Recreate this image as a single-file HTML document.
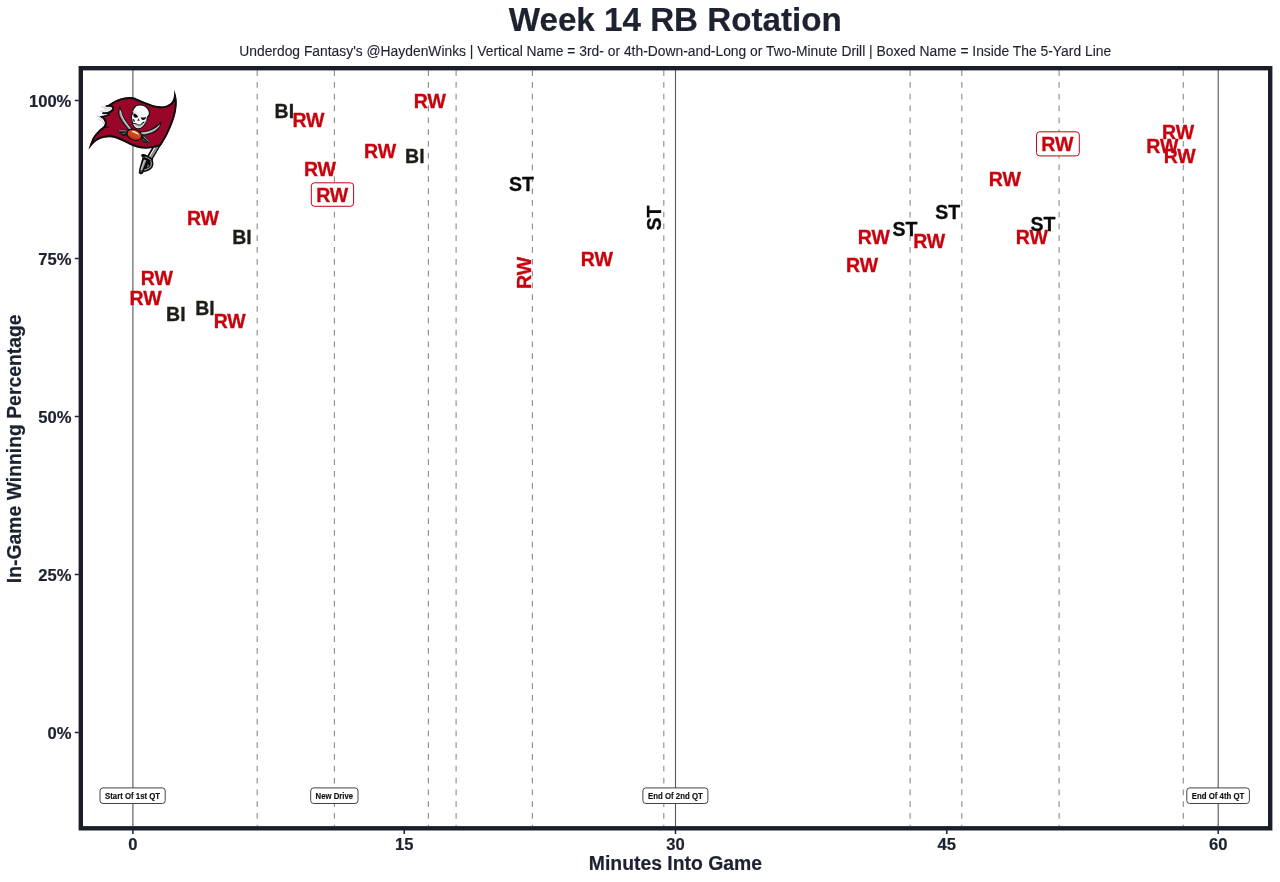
<!DOCTYPE html>
<html lang="en"><head><meta charset="utf-8"><title>Week 14 RB Rotation</title>
<style>
html,body{margin:0;padding:0;background:#fff;}
body{width:1280px;height:882px;overflow:hidden;}
svg{display:block;}
text{font-family:"Liberation Sans",Arial,Helvetica,sans-serif;}
.b{font-weight:700;stroke:#1d2230;stroke-width:0.2px;}
.lbl{font-weight:700;font-size:19.50px;text-anchor:middle;stroke-width:0.3px;paint-order:stroke;stroke-linejoin:round;}
.ax{font-weight:700;font-size:16.6px;fill:#1d2230;stroke:#1d2230;stroke-width:0.2px;}
.an{font-weight:700;font-size:8.15px;text-anchor:middle;fill:#111;stroke:#111;stroke-width:0.15px;}
</style></head><body>
<svg width="1280" height="882" viewBox="0 0 1280 882">
<rect width="1280" height="882" fill="#ffffff"/>
<text class="b" x="675.3" y="30.6" text-anchor="middle" font-size="33.2" fill="#1d2230">Week 14 RB Rotation</text>
<text x="675.2" y="55.9" text-anchor="middle" font-size="13.85" fill="#1d2230" stroke="#1d2230" stroke-width="0.12">Underdog Fantasy's @HaydenWinks | Vertical Name = 3rd- or 4th-Down-and-Long or Two-Minute Drill | Boxed Name = Inside The 5-Yard Line</text>
<g stroke="#909090" stroke-width="1.15" stroke-dasharray="5.75 6.04" fill="none">
<line x1="257.2" y1="70.25" x2="257.2" y2="826"/>
<line x1="334.4" y1="70.25" x2="334.4" y2="826"/>
<line x1="428.4" y1="70.25" x2="428.4" y2="826"/>
<line x1="456.1" y1="70.25" x2="456.1" y2="826"/>
<line x1="532.4" y1="70.25" x2="532.4" y2="826"/>
<line x1="663.8" y1="70.25" x2="663.8" y2="826"/>
<line x1="910.1" y1="70.25" x2="910.1" y2="826"/>
<line x1="961.8" y1="70.25" x2="961.8" y2="826"/>
<line x1="1059.1" y1="70.25" x2="1059.1" y2="826"/>
<line x1="1183.3" y1="70.25" x2="1183.3" y2="826"/>
</g>
<g stroke="#5c5c5c" stroke-width="1.15" fill="none">
<line x1="132.9" y1="70" x2="132.9" y2="826"/>
<line x1="675.5" y1="70" x2="675.5" y2="826"/>
<line x1="1218.2" y1="70" x2="1218.2" y2="826"/>
</g>
<g id="logo">
<path d="M156.30 140.37 L161.88 143.62 L152.00 160.56 L146.43 157.30Z" fill="#0c0c0c"/>
<path d="M157.77 141.23 L158.98 141.93 L149.10 158.87 L147.89 158.16Z" fill="#f4f5f6"/>
<path d="M158.98 141.93 L160.62 142.89 L150.75 159.82 L149.10 158.87Z" fill="#a4aaae"/>
<path d="M159.59 142.29 L159.93 142.49 L150.05 159.42 L149.71 159.22Z" fill="#5d6266"/>
<path d="M146.0 158.6 L150.8 160.2 C152.4 163.4 151.6 167.0 148.8 169.0 C147.0 170.2 145.0 170.6 142.6 170.8 Z" fill="#0c0c0c"/>
<path d="M150.2 159.2 C151.6 161.0 152.1 163.4 151.5 165.6 C150.7 168.4 148.2 169.9 143.4 170.5" fill="none" stroke="#0c0c0c" stroke-width="3.3" stroke-linecap="round"/>
<path d="M150.4 160.2 C151.3 161.6 151.6 163.6 151.1 165.4 C150.4 167.8 148.0 169.2 144.2 169.9" fill="none" stroke="#9ba1a5" stroke-width="1.15" stroke-linecap="round"/>
<path d="M147.6 164.6 L149.2 165.0 L148.6 166.8 L146.8 167.4 Z" fill="#6f7478"/>
<path d="M142.6 157.0 L148.4 158.6 L146.0 165.0 L144.2 170.2 L142.8 173.6 L140.7 174.6 L138.7 172.9 L139.2 169.0 L140.8 163.4 Z" fill="#0c0c0c"/>
<path d="M144.0 159.6 L146.4 160.3 L143.6 167.4 L141.9 171.6 L140.7 172.4 L140.3 170.0 Z" fill="#8e9498"/>
<path d="M144.1 160.0 L145.0 160.3 L141.5 169.6 L140.8 169.3 Z" fill="#d4d8da"/>
<path d="M140.2 170.6 L142.6 171.3" stroke="#0c0c0c" stroke-width="0.8"/>
<path d="M141.6 154.2 C143.2 153.5 145.0 154.0 146.2 155.4 L146.0 157.6 L142.8 157.6 C141.2 157.0 140.8 155.2 141.6 154.2 Z" fill="#0c0c0c"/>
<path d="M145.0 156.0 C147.4 157.0 149.6 158.2 151.6 159.9" fill="none" stroke="#0c0c0c" stroke-width="3.0" stroke-linecap="round"/>
<path d="M145.4 156.9 C147.4 157.7 149.4 158.8 151.1 160.2" fill="none" stroke="#9ba1a5" stroke-width="1.0" stroke-linecap="round"/>
<clipPath id="fc"><path d="M107.00 105.60 C107.70 105.17 109.58 103.95 111.20 103.00 C112.82 102.05 114.43 100.82 116.70 99.90 C118.97 98.98 122.08 97.93 124.80 97.50 C127.52 97.07 130.30 96.78 133.00 97.30 C135.70 97.82 137.97 99.40 141.00 100.60 C144.03 101.80 148.13 103.55 151.20 104.50 C154.27 105.45 156.90 106.10 159.40 106.30 C161.90 106.50 164.22 106.32 166.20 105.70 C168.18 105.08 170.05 103.95 171.30 102.60 C172.55 101.25 173.18 99.70 173.70 97.60 C174.22 95.50 174.28 91.27 174.40 90.00 C174.72 91.27 175.92 95.20 176.30 97.60 C176.68 100.00 176.88 101.57 176.70 104.40 C176.52 107.23 176.02 111.20 175.20 114.60 C174.38 118.00 173.07 121.52 171.80 124.80 C170.53 128.08 169.07 131.33 167.60 134.30 C166.13 137.27 164.17 140.65 163.00 142.60 C161.83 144.55 161.00 145.43 160.60 146.00 C159.67 146.27 156.93 147.17 155.00 147.60 C153.07 148.03 151.00 148.43 149.00 148.60 C147.00 148.77 145.00 148.80 143.00 148.60 C141.00 148.40 139.00 147.95 137.00 147.40 C135.00 146.85 133.17 146.23 131.00 145.30 C128.83 144.37 126.33 142.90 124.00 141.80 C121.67 140.70 119.25 139.45 117.00 138.70 C114.75 137.95 112.67 137.45 110.50 137.30 C108.33 137.15 106.15 137.32 104.00 137.80 C101.85 138.28 99.47 139.12 97.60 140.20 C95.73 141.28 94.32 142.70 92.80 144.30 C91.28 145.90 89.22 148.88 88.50 149.80 C88.80 148.83 89.45 146.20 90.30 144.00 C91.15 141.80 92.20 138.87 93.60 136.60 C95.00 134.33 97.18 131.95 98.70 130.40 C100.22 128.85 102.03 127.82 102.70 127.30 C102.98 126.92 104.07 125.88 104.40 125.00 C104.73 124.12 105.00 123.07 104.70 122.00 C104.40 120.93 103.58 119.52 102.60 118.60 C101.62 117.68 99.43 116.85 98.80 116.50 C99.67 116.32 102.47 115.78 104.00 115.40 C105.53 115.02 107.33 114.40 108.00 114.20 C107.58 114.10 106.33 113.78 105.50 113.60 C104.67 113.42 103.42 113.18 103.00 113.10 C103.25 112.67 104.33 111.28 104.50 110.50 C104.67 109.72 103.58 109.22 104.00 108.40 C104.42 107.58 106.50 106.07 107.00 105.60 Z"/></clipPath>
<g clip-path="url(#fc)"><path d="M107.00 105.60 C107.70 105.17 109.58 103.95 111.20 103.00 C112.82 102.05 114.43 100.82 116.70 99.90 C118.97 98.98 122.08 97.93 124.80 97.50 C127.52 97.07 130.30 96.78 133.00 97.30 C135.70 97.82 137.97 99.40 141.00 100.60 C144.03 101.80 148.13 103.55 151.20 104.50 C154.27 105.45 156.90 106.10 159.40 106.30 C161.90 106.50 164.22 106.32 166.20 105.70 C168.18 105.08 170.05 103.95 171.30 102.60 C172.55 101.25 173.18 99.70 173.70 97.60 C174.22 95.50 174.28 91.27 174.40 90.00 C174.72 91.27 175.92 95.20 176.30 97.60 C176.68 100.00 176.88 101.57 176.70 104.40 C176.52 107.23 176.02 111.20 175.20 114.60 C174.38 118.00 173.07 121.52 171.80 124.80 C170.53 128.08 169.07 131.33 167.60 134.30 C166.13 137.27 164.17 140.65 163.00 142.60 C161.83 144.55 161.00 145.43 160.60 146.00 C159.67 146.27 156.93 147.17 155.00 147.60 C153.07 148.03 151.00 148.43 149.00 148.60 C147.00 148.77 145.00 148.80 143.00 148.60 C141.00 148.40 139.00 147.95 137.00 147.40 C135.00 146.85 133.17 146.23 131.00 145.30 C128.83 144.37 126.33 142.90 124.00 141.80 C121.67 140.70 119.25 139.45 117.00 138.70 C114.75 137.95 112.67 137.45 110.50 137.30 C108.33 137.15 106.15 137.32 104.00 137.80 C101.85 138.28 99.47 139.12 97.60 140.20 C95.73 141.28 94.32 142.70 92.80 144.30 C91.28 145.90 89.22 148.88 88.50 149.80 C88.80 148.83 89.45 146.20 90.30 144.00 C91.15 141.80 92.20 138.87 93.60 136.60 C95.00 134.33 97.18 131.95 98.70 130.40 C100.22 128.85 102.03 127.82 102.70 127.30 C102.98 126.92 104.07 125.88 104.40 125.00 C104.73 124.12 105.00 123.07 104.70 122.00 C104.40 120.93 103.58 119.52 102.60 118.60 C101.62 117.68 99.43 116.85 98.80 116.50 C99.67 116.32 102.47 115.78 104.00 115.40 C105.53 115.02 107.33 114.40 108.00 114.20 C107.58 114.10 106.33 113.78 105.50 113.60 C104.67 113.42 103.42 113.18 103.00 113.10 C103.25 112.67 104.33 111.28 104.50 110.50 C104.67 109.72 103.58 109.22 104.00 108.40 C104.42 107.58 106.50 106.07 107.00 105.60 Z" fill="#98072a" stroke="#0c0c0c" stroke-width="3.9" stroke-linejoin="round"/>
<path d="M101.5 127.6 C104.5 127.0 107.0 127.0 109.2 127.3" stroke="#0c0c0c" stroke-width="1.1" fill="none"/>
</g>
<path d="M102.9 112.6 C104.6 112.6 107.0 112.2 109.0 111.4 C111.0 110.4 112.4 109.0 112.3 107.8 C111.6 106.8 109.4 106.5 107.2 106.6 C105.8 106.6 104.4 107.2 103.2 108.0 C103.6 109.0 103.4 110.0 102.4 110.8 C102.8 111.4 102.9 112.0 102.9 112.6 Z" fill="#f1f2f3"/>
<path d="M104.6 108.8 C106.6 108.2 108.8 108.0 110.8 108.2" fill="none" stroke="#c5cace" stroke-width="0.8"/>
<path d="M104.2 111.0 C106.2 110.8 108.2 110.2 109.8 109.4" fill="none" stroke="#d5d9dc" stroke-width="0.7"/>
<path d="M106.4 106.0 C109.4 105.7 112.6 105.9 113.2 107.6 C113.6 109.6 111.4 111.7 108.6 112.6 C106.6 113.2 104.6 113.4 102.9 113.2" fill="none" stroke="#0c0c0c" stroke-width="1.7" stroke-linecap="round"/>
<g fill="none" stroke="#c3c9cd" stroke-width="1.0" stroke-linecap="round">
<path d="M101.6 106.8 L104.6 107.3"/><path d="M100.6 111.7 L102.6 111.0"/><path d="M97.0 115.7 L100.6 117.9 C102.0 119.4 103.0 121.4 103.2 123.6"/><path d="M98.6 119.4 L100.6 120.4"/>
</g>
<path d="M119.70 106.00 C119.45 107.00 118.28 110.17 118.20 112.00 C118.12 113.83 118.57 115.35 119.20 117.00 C119.83 118.65 120.95 120.33 122.00 121.90 C123.05 123.47 124.42 124.98 125.50 126.40 C126.58 127.82 128.00 129.73 128.50 130.40 L132.60 129.00 C132.32 128.65 131.83 128.08 130.90 126.90 C129.97 125.72 128.23 123.63 127.00 121.90 C125.77 120.17 124.47 118.57 123.50 116.50 C122.53 114.43 121.83 111.25 121.20 109.50 C120.57 107.75 119.95 106.58 119.70 106.00 Z" fill="#0c0c0c"/>
<path d="M119.90 108.60 C119.78 109.23 119.15 111.03 119.20 112.40 C119.25 113.77 119.58 115.28 120.20 116.80 C120.82 118.32 121.88 119.98 122.90 121.50 C123.92 123.02 125.28 124.62 126.30 125.90 C127.32 127.18 128.55 128.65 129.00 129.20 L131.20 128.40 C131.00 128.15 130.83 127.97 130.00 126.90 C129.17 125.83 127.42 123.72 126.20 122.00 C124.98 120.28 123.62 118.50 122.70 116.60 C121.78 114.70 121.17 111.93 120.70 110.60 C120.23 109.27 120.03 108.93 119.90 108.60 Z" fill="#8b9195"/>
<path d="M120.5 111.0 C121.2 115.0 122.8 118.6 125.0 122.0 C126.6 124.4 128.4 126.6 130.2 128.6" fill="none" stroke="#e2e5e7" stroke-width="0.85"/>
<path d="M161.50 121.30 C160.87 121.83 159.17 123.40 157.70 124.50 C156.23 125.60 154.52 126.92 152.70 127.90 C150.88 128.88 148.93 129.82 146.80 130.40 C144.67 130.98 141.05 131.23 139.90 131.40 L140.40 134.90 C141.07 134.98 142.73 135.57 144.40 135.40 C146.07 135.23 148.40 134.65 150.40 133.90 C152.40 133.15 154.73 132.23 156.40 130.90 C158.07 129.57 159.57 127.47 160.40 125.90 C161.23 124.33 161.23 122.23 161.40 121.50 Z" fill="#0c0c0c"/>
<path d="M160.20 124.00 C159.77 124.37 158.77 125.37 157.60 126.20 C156.43 127.03 154.97 128.13 153.20 129.00 C151.43 129.87 149.10 130.83 147.00 131.40 C144.90 131.97 141.67 132.23 140.60 132.40 L140.90 134.00 C141.48 134.07 142.88 134.57 144.40 134.40 C145.92 134.23 148.13 133.70 150.00 133.00 C151.87 132.30 154.07 131.27 155.60 130.20 C157.13 129.13 158.43 127.60 159.20 126.60 C159.97 125.60 160.03 124.60 160.20 124.20 Z" fill="#8b9195"/>
<path d="M159.0 126.0 C157.0 128.6 154.2 130.4 151.0 131.6 C147.8 132.8 144.4 133.2 141.2 133.2" fill="none" stroke="#e2e5e7" stroke-width="0.85"/>
<path d="M117.2 131.2 C120.0 129.6 123.8 129.4 127.4 130.0 L127.6 135.0 C125.8 136.6 123.0 136.6 121.4 135.2 C120.8 133.8 119.2 132.6 117.2 131.2 Z" fill="#1b1c1d"/>
<path d="M119.0 131.0 C121.6 130.4 124.2 130.6 126.6 131.2" stroke="#8d9397" stroke-width="1.0" fill="none"/>
<path d="M122.2 133.6 L125.6 133.0" stroke="#6b7074" stroke-width="0.9" fill="none"/>
<path d="M141.2 136.2 L143.8 135.2 C146.6 137.4 148.8 139.6 149.9 141.9 C148.4 143.0 146.0 143.1 143.8 142.4 C142.2 141.2 141.2 139.0 141.2 136.2 Z" fill="#1b1c1d"/>
<path d="M143.6 136.6 C145.4 138.0 147.2 139.6 148.6 141.4" stroke="#a7adb0" stroke-width="1.0" fill="none"/>
<path d="M143.0 139.0 L144.6 141.2" stroke="#6b7074" stroke-width="0.9" fill="none"/>
<path d="M140.50 104.90 C141.67 105.00 143.50 105.28 144.70 105.90 C145.90 106.52 146.93 107.58 147.70 108.60 C148.47 109.62 149.07 110.93 149.30 112.00 C149.53 113.07 149.42 114.10 149.10 115.00 C148.78 115.90 147.77 116.52 147.40 117.40 C147.03 118.28 147.27 119.25 146.90 120.30 C146.53 121.35 145.88 122.65 145.20 123.70 C144.52 124.75 143.72 125.80 142.80 126.60 C141.88 127.40 140.73 128.18 139.70 128.50 C138.67 128.82 137.57 128.82 136.60 128.50 C135.63 128.18 134.58 127.48 133.90 126.60 C133.22 125.72 132.83 124.37 132.50 123.20 C132.17 122.03 132.08 120.75 131.90 119.60 C131.72 118.45 131.28 117.38 131.40 116.30 C131.52 115.22 132.33 114.17 132.60 113.10 C132.87 112.03 132.58 110.95 133.00 109.90 C133.42 108.85 134.32 107.57 135.10 106.80 C135.88 106.03 136.80 105.62 137.70 105.30 C138.60 104.98 139.33 104.80 140.50 104.90 Z" fill="#fbfbfb" stroke="#0c0c0c" stroke-width="1.15" stroke-linejoin="round"/>
<path d="M133.2 123.6 C135.0 124.2 136.6 124.2 138.0 125.2 C139.6 125.8 141.0 125.2 142.2 123.8 C143.0 123.0 144.0 122.4 145.0 122.2 C144.4 124.2 143.2 125.8 141.6 127.0 C140.2 127.9 138.2 128.2 136.8 127.8 C135.0 127.0 133.8 125.6 133.2 123.6 Z" fill="#cfd3d6"/>
<path d="M132.6 111.4 C134.6 111.8 137.0 112.8 139.0 114.6" fill="none" stroke="#d9dcde" stroke-width="0.8"/>
<path d="M133.7 113.2 C135.6 113.6 137.2 114.8 138.2 116.7 C137.0 117.9 135.0 117.9 133.9 116.9 C133.2 115.8 133.2 114.4 133.7 113.2 Z" fill="#0c0c0c"/>
<path d="M140.7 117.2 C142.6 117.8 144.4 117.6 146.0 116.7 C146.1 118.6 144.9 120.0 143.2 120.1 C141.8 119.9 140.9 118.8 140.7 117.2 Z" fill="#0c0c0c"/>
<path d="M138.5 118.2 L139.7 120.6 L137.4 120.9 Z" fill="#141414"/>
<path d="M132.9 119.0 C134.0 118.9 134.9 120.2 134.8 122.0 C133.7 122.0 132.9 120.8 132.9 119.0 Z" fill="#141414"/>
<path d="M146.4 120.4 C146.2 121.6 145.8 122.4 145.4 123.0" stroke="#777c80" stroke-width="0.9" fill="none"/>
<path d="M133.1 123.2 C134.0 123.6 134.8 123.5 135.5 123.7 C136.6 124.0 137.2 124.8 138.2 125.0 C139.2 125.2 140.2 125.0 141.0 124.6 C141.6 124.0 142.0 123.4 142.6 123.0 C143.2 122.6 143.8 122.3 144.4 122.0" fill="none" stroke="#141414" stroke-width="1.05"/>
<path d="M136.6 124.3 L136.4 125.6 M139.6 125.2 L139.6 126.4 M142.0 123.6 L142.6 124.8" stroke="#8a8f93" stroke-width="0.6"/>
<g transform="translate(134.3 134.8) rotate(20)">
<ellipse rx="7.6" ry="5.2" fill="#d8401a" stroke="#0c0c0c" stroke-width="1.15"/>
<path d="M-6.8 1.6 C-3.5 4.6 3.5 4.6 6.8 1.6 C4.0 3.0 -4.0 3.0 -6.8 1.6 Z" fill="#a92c10"/>
<path d="M-3.4 -2.4 C-1.2 -3.4 1.8 -3.2 3.8 -1.8 C1.8 -2.2 -1.2 -2.2 -3.4 -2.4 Z" fill="#ffffff" stroke="#ffe9df" stroke-width="0.7"/>
</g>
</g>
<g class="lbl">
<text x="284.35" y="117.50" fill="#1f1b17" stroke="#1f1b17">BI</text>
<text x="308.45" y="126.90" fill="#c8030d" stroke="#c8030d">RW</text>
<text x="429.90" y="108.00" fill="#c8030d" stroke="#c8030d">RW</text>
<text x="380.10" y="157.70" fill="#c8030d" stroke="#c8030d">RW</text>
<text x="414.85" y="162.70" fill="#1f1b17" stroke="#1f1b17">BI</text>
<text x="319.95" y="176.00" fill="#c8030d" stroke="#c8030d">RW</text>
<text x="202.95" y="225.40" fill="#c8030d" stroke="#c8030d">RW</text>
<text x="242.00" y="244.10" fill="#1f1b17" stroke="#1f1b17">BI</text>
<text x="156.75" y="284.60" fill="#c8030d" stroke="#c8030d">RW</text>
<text x="145.50" y="304.80" fill="#c8030d" stroke="#c8030d">RW</text>
<text x="175.85" y="321.40" fill="#1f1b17" stroke="#1f1b17">BI</text>
<text x="204.95" y="314.50" fill="#1f1b17" stroke="#1f1b17">BI</text>
<text x="229.70" y="327.90" fill="#c8030d" stroke="#c8030d">RW</text>
<text x="521.55" y="190.60" fill="#0a0a08" stroke="#0a0a08">ST</text>
<text x="596.90" y="265.50" fill="#c8030d" stroke="#c8030d">RW</text>
<text x="873.75" y="243.75" fill="#c8030d" stroke="#c8030d">RW</text>
<text x="862.00" y="271.70" fill="#c8030d" stroke="#c8030d">RW</text>
<text x="929.20" y="247.70" fill="#c8030d" stroke="#c8030d">RW</text>
<text x="1004.90" y="185.70" fill="#c8030d" stroke="#c8030d">RW</text>
<text x="1031.85" y="244.10" fill="#c8030d" stroke="#c8030d">RW</text>
<text x="1178.15" y="138.50" fill="#c8030d" stroke="#c8030d">RW</text>
<text x="1162.25" y="153.40" fill="#c8030d" stroke="#c8030d">RW</text>
<text x="1179.70" y="163.10" fill="#c8030d" stroke="#c8030d">RW</text>
<text x="905.00" y="235.90" fill="#0a0a08" stroke="#0a0a08">ST</text>
<text x="947.75" y="219.30" fill="#0a0a08" stroke="#0a0a08">ST</text>
<text x="1043.00" y="230.70" fill="#0a0a08" stroke="#0a0a08">ST</text>
<text transform="translate(530.6 272.9) rotate(-90)" fill="#c8030d" stroke="#c8030d">RW</text>
<text transform="translate(660.9 218.1) rotate(-90)" fill="#0a0a08" stroke="#0a0a08">ST</text>
</g>
<rect x="311.3" y="182.8" width="42.3" height="23.5" rx="3.2" fill="#fff" stroke="#c8030d" stroke-width="1"/>
<text class="lbl" x="332.20" y="202.30" fill="#c8030d" stroke="#c8030d">RW</text>
<rect x="1036.5" y="131.8" width="42.8" height="24.1" rx="3.2" fill="#fff" stroke="#c8030d" stroke-width="1"/>
<text class="lbl" x="1057.30" y="151.00" fill="#c8030d" stroke="#c8030d">RW</text>
<rect x="100.0" y="787.9" width="65.2" height="15.6" rx="3" fill="#fff" stroke="#444" stroke-width="1"/>
<text class="an" x="132.60" y="798.95" textLength="55.1" lengthAdjust="spacingAndGlyphs">Start Of 1st QT</text>
<rect x="310.7" y="787.9" width="47.3" height="15.6" rx="3" fill="#fff" stroke="#444" stroke-width="1"/>
<text class="an" x="334.35" y="798.95" textLength="37.6" lengthAdjust="spacingAndGlyphs">New Drive</text>
<rect x="642.9" y="787.9" width="65.0" height="15.6" rx="3" fill="#fff" stroke="#444" stroke-width="1"/>
<text class="an" x="675.40" y="798.95" textLength="54.7" lengthAdjust="spacingAndGlyphs">End Of 2nd QT</text>
<rect x="1186.8" y="787.9" width="62.6" height="15.6" rx="3" fill="#fff" stroke="#444" stroke-width="1"/>
<text class="an" x="1218.10" y="798.95" textLength="52.6" lengthAdjust="spacingAndGlyphs">End Of 4th QT</text>
<rect x="80.8" y="68.2" width="1189.4" height="760.1" fill="none" stroke="#1a1e2a" stroke-width="4.4"/>
<g stroke="#1d2230" stroke-width="1.5">
<line x1="74.8" y1="732.5" x2="78.8" y2="732.5"/>
<line x1="74.8" y1="574.5" x2="78.8" y2="574.5"/>
<line x1="74.8" y1="416.5" x2="78.8" y2="416.5"/>
<line x1="74.8" y1="258.5" x2="78.8" y2="258.5"/>
<line x1="74.8" y1="100.5" x2="78.8" y2="100.5"/>
<line x1="132.9" y1="830" x2="132.9" y2="834"/>
<line x1="404.2" y1="830" x2="404.2" y2="834"/>
<line x1="675.5" y1="830" x2="675.5" y2="834"/>
<line x1="946.8" y1="830" x2="946.8" y2="834"/>
<line x1="1218.2" y1="830" x2="1218.2" y2="834"/>
</g>
<g class="ax">
<text x="71.4" y="738.6" text-anchor="end">0%</text>
<text x="71.4" y="580.6" text-anchor="end">25%</text>
<text x="71.4" y="422.6" text-anchor="end">50%</text>
<text x="71.4" y="264.6" text-anchor="end">75%</text>
<text x="71.4" y="106.6" text-anchor="end">100%</text>
<text x="132.9" y="850.2" text-anchor="middle">0</text>
<text x="404.2" y="850.2" text-anchor="middle">15</text>
<text x="675.5" y="850.2" text-anchor="middle">30</text>
<text x="946.8" y="850.2" text-anchor="middle">45</text>
<text x="1218.2" y="850.2" text-anchor="middle">60</text>
</g>
<text class="b" x="675.4" y="870.4" text-anchor="middle" font-size="19.37" fill="#1d2230">Minutes Into Game</text>
<text class="b" transform="translate(21.4 448.8) rotate(-90)" text-anchor="middle" font-size="19.37" fill="#1d2230">In-Game Winning Percentage</text>
</svg>
</body></html>
